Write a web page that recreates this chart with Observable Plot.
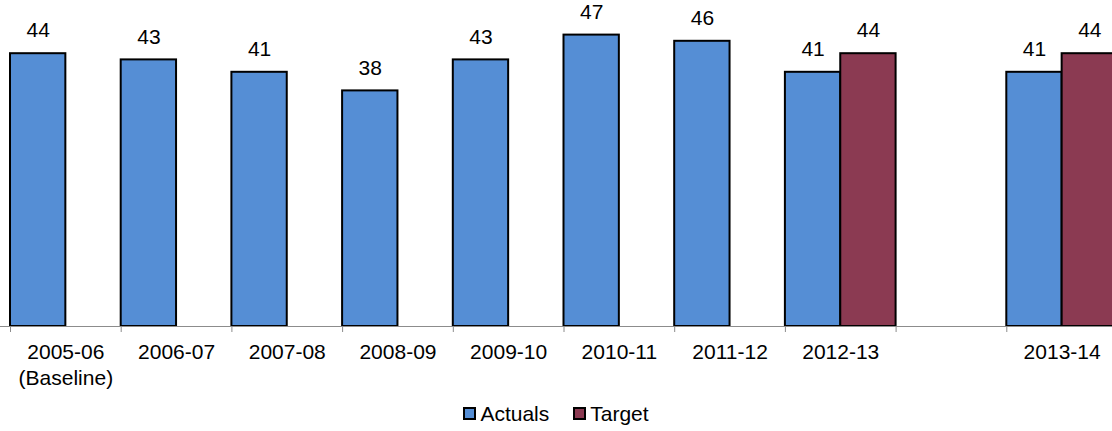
<!DOCTYPE html>
<html>
<head>
<meta charset="utf-8">
<script src="https://cdn.jsdelivr.net/npm/d3@7"></script>
<script src="https://cdn.jsdelivr.net/npm/@observablehq/plot@0.6"></script>
<style>
  html, body { margin: 0; padding: 0; background: white; overflow: hidden; }
  body { width: 1112px; height: 431px; font-family: "Liberation Sans", Arial, sans-serif; }
  #legend { height: 35px; display: flex; justify-content: center; align-items: center; font-size: 21px; color: #000; }
  .item { display: flex; align-items: center; margin: 0 12px; }
  .sw { width: 9px; height: 9px; border: 2px solid #000; margin-right: 4px; }
</style>
</head>
<body>
<div id="chart"></div>
<div id="legend"></div>
<script>
// ---- data ----
const slots = ["2005-06","2006-07","2007-08","2008-09","2009-10","2010-11","2011-12","2012-13","gap","2013-14"];
const tickLabels = ["2005-06\n(Baseline)","2006-07","2007-08","2008-09","2009-10","2010-11","2011-12","2012-13","","2013-14"];
const actualYears = ["2005-06","2006-07","2007-08","2008-09","2009-10","2010-11","2011-12","2012-13","2013-14"];
const actuals = [44, 43, 41, 38, 43, 47, 46, 41, 41];
const targetYears = ["2012-13","2013-14"];
const targets = [44, 44];
const series = ["Actuals", "Target"];
const colors = ["#558ED5", "#8B3A52"];

// ---- build table ----
const key = (slot, s) => slot + "|" + s;
const data = [
  ...actualYears.map((y, i) => ({slot: y, series: "Actuals", value: actuals[i]})),
  ...targetYears.map((y, i) => ({slot: y, series: "Target", value: targets[i]}))
];
const domainKeys = slots.flatMap(s => series.map(r => key(s, r)));
const leftKeys = slots.map(s => key(s, "Actuals"));
const labelOf = new Map(slots.map((s, i) => [key(s, "Actuals"), tickLabels[i]]));

const W = 1112, H = 396;
const x0 = 10, x1 = 1117;
const bw = (x1 - x0) / domainKeys.length;

const chart = Plot.plot({
  width: W,
  height: H,
  marginTop: 16,
  marginBottom: 70,
  marginLeft: 0,
  marginRight: 0,
  style: {fontFamily: "Liberation Sans, Arial, sans-serif", fontSize: "21px", background: "white", color: "#000"},
  x: {type: "band", domain: domainKeys, range: [x0, x1], padding: 0, round: false, axis: null},
  y: {domain: [0, 50], axis: null},
  color: {domain: series, range: colors},
  marks: [
    Plot.barY(data, {x: d => key(d.slot, d.series), y: "value", fill: "series", stroke: "#000", strokeWidth: 2}),
    Plot.text(data, {x: d => key(d.slot, d.series), y: "value", text: d => String(d.value), dy: -23, fontSize: 21, fill: "#000"}),
    Plot.ruleY([0], {stroke: "#8c8c8c", strokeWidth: 1}),
    Plot.axisX(leftKeys, {tickSize: 6, tickFormat: () => "", dx: -bw / 2, stroke: "#8c8c8c", strokeWidth: 1}),
    Plot.axisX(leftKeys, {tickSize: 0, tickPadding: 14, dx: bw / 2, tickFormat: k => labelOf.get(k), fontSize: 21, lineHeight: 1.25, fill: "#000"})
  ]
});
document.getElementById("chart").appendChild(chart);

const legend = document.getElementById("legend");
series.forEach((s, i) => {
  const item = document.createElement("div");
  item.className = "item";
  const sw = document.createElement("div");
  sw.className = "sw";
  sw.style.background = colors[i];
  const t = document.createElement("span");
  t.textContent = s;
  item.appendChild(sw);
  item.appendChild(t);
  legend.appendChild(item);
});
</script>
</body>
</html>
